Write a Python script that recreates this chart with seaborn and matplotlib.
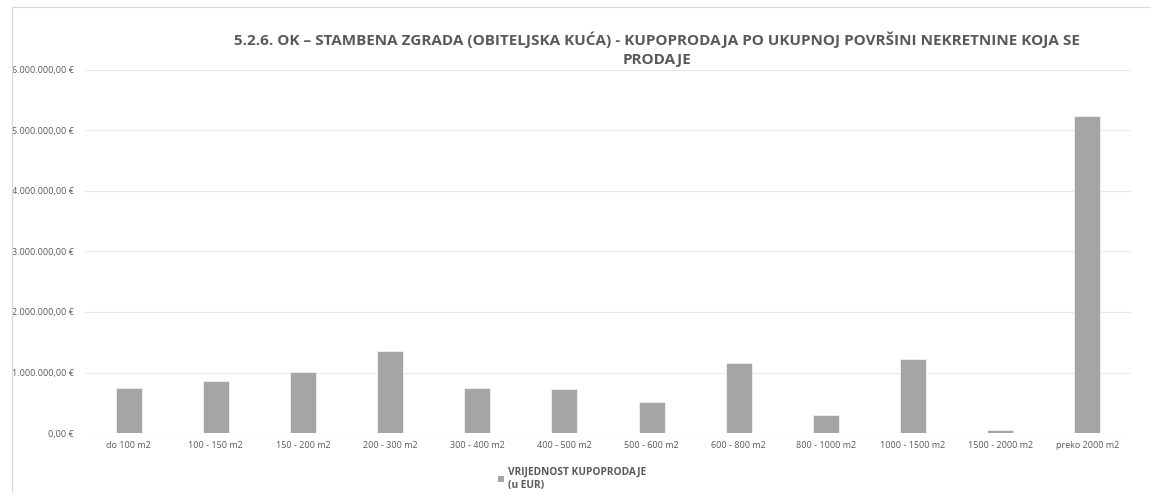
import matplotlib
matplotlib.use('Agg')
import matplotlib.pyplot as plt
import matplotlib.ticker as mticker
from matplotlib.lines import Line2D
from matplotlib.patches import Patch
import seaborn as sns
import pandas as pd

# Chart data
categories = ['do 100 m2', '100 - 150 m2', '150 - 200 m2', '200 - 300 m2',
              '300 - 400 m2', '400 - 500 m2', '500 - 600 m2', '600 - 800 m2',
              '800 - 1000 m2', '1000 - 1500 m2', '1500 - 2000 m2', 'preko 2000 m2']
values = [750000, 855000, 1005000, 1350000, 750000, 720000, 505000, 1165000,
          305000, 1215000, 45000, 5235000]
y_ticks = [0, 1000000, 2000000, 3000000, 4000000, 5000000, 6000000]

title = ('5.2.6. OK – STAMBENA ZGRADA (OBITELJSKA KUĆA) - KUPOPRODAJA PO UKUPNOJ '
         'POVRŠINI NEKRETNINE KOJA SE\nPRODAJE')
legend_label = 'VRIJEDNOST KUPOPRODAJE\n(u EUR)'

BAR_COLOR = '#a5a5a5'
TEXT_COLOR = '#595959'
GRID_COLOR = '#e8e8e8'

df = pd.DataFrame({'kategorija': categories, 'vrijednost': values})

sns.set_theme(style='white')
plt.rcParams['font.family'] = ['Open Sans', 'DejaVu Sans']

fig = plt.figure(figsize=(11.51, 4.93), dpi=100)
ax = fig.add_axes([85 / 1151, 1 - 433 / 493, (1131 - 85) / 1151, (433 - 70) / 493])

sns.barplot(data=df, x='kategorija', y='vrijednost', color=BAR_COLOR,
            width=0.3, edgecolor='#f2f2f2', linewidth=0.6, saturation=1, ax=ax)

ax.set_ylim(0, 6000000)
ax.set_yticks(y_ticks)


def eur(v, pos):
    s = f'{v:,.2f}'.replace(',', 'X').replace('.', ',').replace('X', '.')
    return s + ' €'


ax.yaxis.set_major_formatter(mticker.FuncFormatter(eur))
ax.yaxis.grid(True, color=GRID_COLOR, linewidth=0.8)
ax.set_axisbelow(True)
for side in ['top', 'right', 'left', 'bottom']:
    ax.spines[side].set_visible(False)
ax.tick_params(axis='both', length=0, labelsize=6.5, colors=TEXT_COLOR)
ax.tick_params(axis='y', pad=8)
ax.tick_params(axis='x', pad=6)
ax.set_xlabel('')
ax.set_ylabel('')

fig.text(657 / 1151, 1 - 49 / 493, title, ha='center', va='center',
         fontsize=11, fontweight='bold', color=TEXT_COLOR, linespacing=1.45)

# Legend below the chart
handle = Patch(facecolor=BAR_COLOR, edgecolor='none')
leg = fig.legend([handle], [legend_label], loc='center left',
                 bbox_to_anchor=(493 / 1151, 1 - 479 / 493), frameon=False,
                 fontsize=7.3, handlelength=0.55, handleheight=0.55,
                 handletextpad=0.4, borderpad=0)
for t in leg.get_texts():
    t.set_color(TEXT_COLOR)
    t.set_fontweight('bold')

# Chart area border (left and top edges visible)
fig.add_artist(Line2D([12 / 1151, 12 / 1151], [0, 1 - 7 / 493],
                      color='#d9d9d9', linewidth=0.8, transform=fig.transFigure))
fig.add_artist(Line2D([12 / 1151, 1], [1 - 7 / 493, 1 - 7 / 493],
                      color='#d9d9d9', linewidth=0.8, transform=fig.transFigure))

fig.savefig('out.png', dpi=100)
